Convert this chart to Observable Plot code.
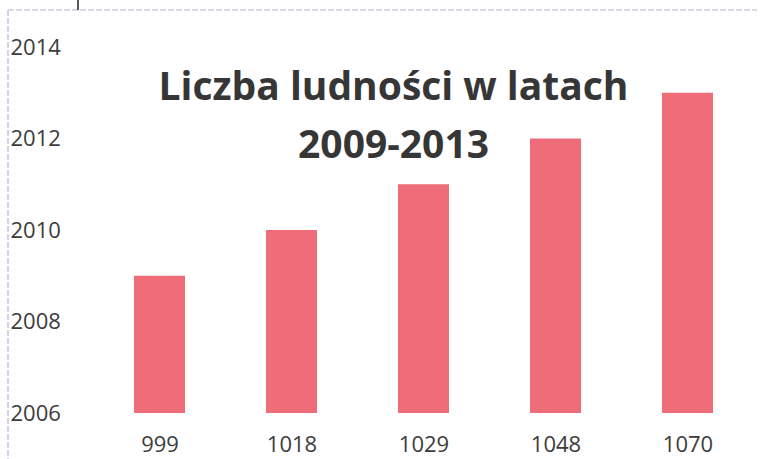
<!DOCTYPE html>
<html>
<head>
<meta charset="utf-8">
<script src="https://cdn.jsdelivr.net/npm/d3@7"></script>
<script src="https://cdn.jsdelivr.net/npm/@observablehq/plot@0.6"></script>
<style>
  html, body { margin: 0; padding: 0; background: #fff; }
  #chart svg { display: block; }
</style>
</head>
<body>
<div id="chart"></div>
<script>
const categories = ["999", "1018", "1029", "1048", "1070"];
const values = [2009, 2010, 2011, 2012, 2013];
const yTicks = [2006, 2008, 2010, 2012, 2014];
const titleLines = ["Liczba ludności w latach", "2009-2013"];

const data = categories.map((c, i) => ({category: c, value: values[i]}));

const W = 763, H = 459;
const chart = Plot.plot({
  width: W,
  height: H,
  marginLeft: 91,
  marginRight: 8,
  marginTop: 47,
  marginBottom: 46,
  style: {fontFamily: "'Open Sans', Lato, sans-serif", background: "#fff"},
  x: {domain: categories, paddingInner: 0.617, paddingOuter: 0.3085, label: null},
  y: {domain: [2006, 2014], label: null},
  marks: [
    Plot.rectY(data, {x: "category", y1: 2006, y2: "value", fill: "#ef6d79"}),
    Plot.axisY({ticks: yTicks, tickSize: 0, textAnchor: "start", dx: -72, fontSize: 22, fill: "#3c3c3c", tickFormat: d => String(d), label: null}),
    Plot.axisX({tickSize: 0, tickPadding: 23, fontSize: 22, fill: "#3c3c3c", label: null}),
    Plot.text([titleLines[0]], {text: d => d, frameAnchor: "top", lineAnchor: "bottom", dx: -30, dy: 52, fontSize: 39, fontWeight: "bold", fill: "#363636"}),
    Plot.text([titleLines[1]], {text: d => d, frameAnchor: "top", lineAnchor: "bottom", dx: -30, dy: 110, fontSize: 39, fontWeight: "bold", fill: "#363636"})
  ]
});

// faint scanned border (top and left)
const svg = d3.select(chart);
svg.append("line").attr("x1", 8).attr("x2", 757).attr("y1", 10).attr("y2", 10)
  .attr("stroke", "#b9b3d6").attr("stroke-width", 1.2).attr("stroke-dasharray", "6 2");
svg.append("line").attr("x1", 8).attr("x2", 8).attr("y1", 10).attr("y2", H)
  .attr("stroke", "#b9b3d6").attr("stroke-width", 1.2).attr("stroke-dasharray", "6 2");
svg.append("line").attr("x1", 78).attr("x2", 78).attr("y1", 0).attr("y2", 10)
  .attr("stroke", "#222").attr("stroke-width", 1.5);

document.getElementById("chart").append(chart);
</script>
</body>
</html>
